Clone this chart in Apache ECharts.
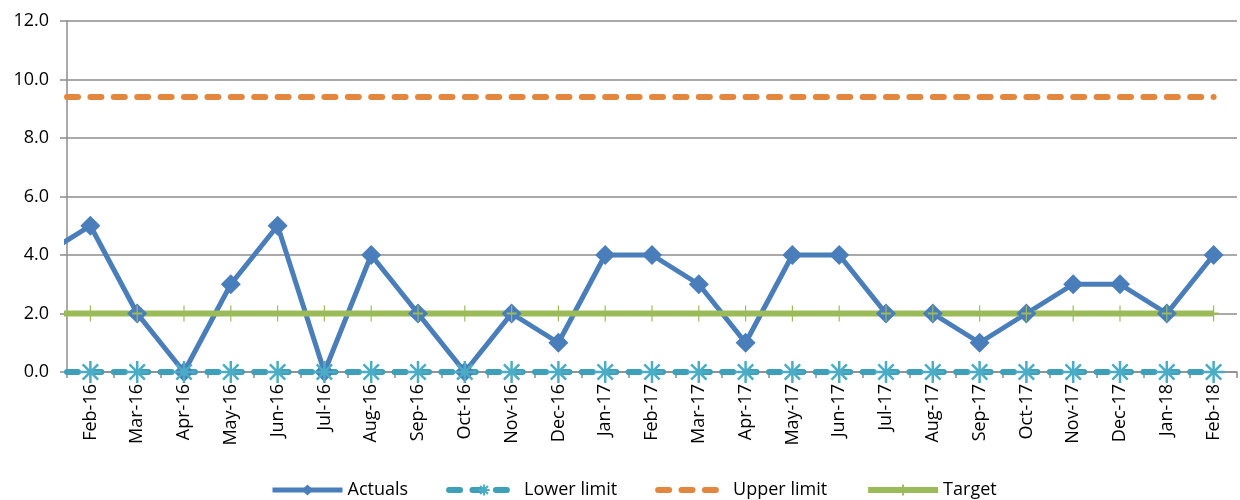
<!DOCTYPE html>
<html>
<head>
<meta charset="utf-8">
<script src="https://cdn.jsdelivr.net/npm/echarts@6/dist/echarts.min.js"></script>
<style>
  html, body { margin: 0; padding: 0; background: #fff; }
  #chart { width: 1240px; height: 500px; }
</style>
</head>
<body>
<div id="chart"></div>
<script>
// Monthly series; Jan-16 sits just before the visible range so the lines run in from the edge
const months = ['Jan-16','Feb-16','Mar-16','Apr-16','May-16','Jun-16','Jul-16','Aug-16','Sep-16','Oct-16','Nov-16','Dec-16',
  'Jan-17','Feb-17','Mar-17','Apr-17','May-17','Jun-17','Jul-17','Aug-17','Sep-17','Oct-17','Nov-17','Dec-17',
  'Jan-18','Feb-18'];
const actuals    = [4, 5, 2, 0, 3, 5, 0, 4, 2, 0, 2, 1, 4, 4, 3, 1, 4, 4, 2, 2, 1, 2, 3, 3, 2, 4];
const lowerLimit = [0, 0, 0, 0, 0, 0, 0, 0, 0, 0, 0, 0, 0, 0, 0, 0, 0, 0, 0, 0, 0, 0, 0, 0, 0, 0];
const upperLimit = [9.4, 9.4, 9.4, 9.4, 9.4, 9.4, 9.4, 9.4, 9.4, 9.4, 9.4, 9.4, 9.4, 9.4, 9.4, 9.4, 9.4, 9.4, 9.4, 9.4, 9.4, 9.4, 9.4, 9.4, 9.4, 9.4];
const target     = [2, 2, 2, 2, 2, 2, 2, 2, 2, 2, 2, 2, 2, 2, 2, 2, 2, 2, 2, 2, 2, 2, 2, 2, 2, 2];
const yTicks = { min: 0, max: 12, interval: 2 };

const FONT = 'Open Sans';
const asterisk = 'path://M10,0 L10,20 M0,10 L20,10 M3,3 L17,17 M3,17 L17,3';
const plusTick = 'path://M5,0 L5,16 M0,8 L10,8';

const chart = echarts.init(document.getElementById('chart'));
chart.setOption({
  animation: false,
  textStyle: { fontFamily: FONT },
  grid: { left: 67, right: 3, top: 21, bottom: 128, containLabel: false },
  legend: {
    top: 476,
    left: 265,
    itemWidth: 70,
    itemHeight: 14,
    itemGap: 38,
    lineStyle: { width: 'inherit' },
    textStyle: { fontFamily: FONT, fontSize: 18, color: '#000' },
    data: ['Actuals', 'Lower limit', 'Upper limit', 'Target']
  },
  xAxis: {
    type: 'category',
    data: months,
    min: 1,
    boundaryGap: true,
    axisLine: { lineStyle: { color: '#8c8c8c', width: 1.5 } },
    axisTick: { show: true, alignWithLabel: false, length: 6, lineStyle: { color: '#8c8c8c', width: 1.5 } },
    axisLabel: { rotate: 90, interval: 0, fontSize: 18, color: '#000', fontFamily: FONT, margin: 12 },
    splitLine: { show: false }
  },
  yAxis: {
    type: 'value',
    min: yTicks.min,
    max: yTicks.max,
    interval: yTicks.interval,
    axisLine: { show: true, lineStyle: { color: '#8c8c8c', width: 1.5 } },
    axisTick: { show: true, length: 7, lineStyle: { color: '#8c8c8c', width: 1.5 } },
    axisLabel: { fontSize: 18, color: '#000', fontFamily: FONT, margin: 18, formatter: v => v.toFixed(1) },
    splitLine: { show: true, lineStyle: { color: '#8c8c8c', width: 1.5 } }
  },
  series: [
    {
      name: 'Actuals', type: 'line', data: actuals,
      symbol: 'diamond', symbolSize: 20, showAllSymbol: true,
      lineStyle: { color: '#4a7ebb', width: 5 },
      itemStyle: { color: '#4a7ebb' }
    },
    {
      name: 'Lower limit', type: 'line', data: lowerLimit,
      symbol: asterisk, symbolSize: 22, showAllSymbol: true,
      lineStyle: { color: '#3e9fb8', width: 6, type: [11, 12.4], cap: 'round' },
      itemStyle: { color: 'transparent', borderColor: '#4bacc6', borderWidth: 2.5 }
    },
    {
      name: 'Upper limit', type: 'line', data: upperLimit,
      symbol: 'circle', showSymbol: false,
      lineStyle: { color: '#e3873f', width: 6, type: [11, 12.4], cap: 'round' },
      itemStyle: { color: 'transparent', borderColor: 'transparent', borderWidth: 0 }
    },
    {
      name: 'Target', type: 'line', data: target,
      symbol: plusTick, symbolSize: [10, 16], showAllSymbol: true,
      lineStyle: { color: '#9bbb59', width: 6 },
      itemStyle: { color: 'transparent', borderColor: '#9bbb59', borderWidth: 1.5 }
    }
  ]
});
</script>
</body>
</html>
